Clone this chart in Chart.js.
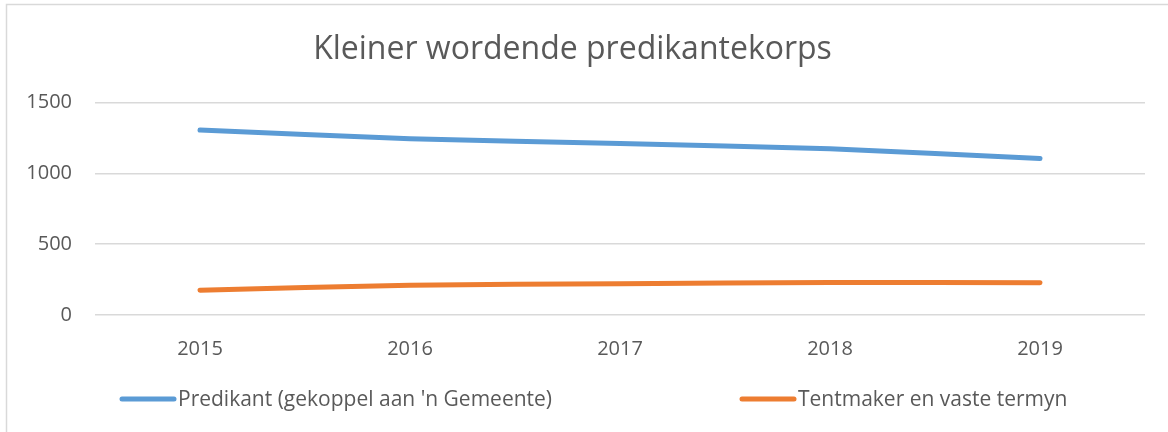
<!DOCTYPE html>
<html>
<head>
<meta charset="utf-8">
<title>Kleiner wordende predikantekorps</title>
<script src="https://cdn.jsdelivr.net/npm/chart.js@4/dist/chart.umd.min.js"></script>
<style>
  html, body { margin: 0; padding: 0; background: #fff; overflow: hidden; }
  #wrap { width: 1168px; height: 432px; }
</style>
</head>
<body>
<div id="wrap"><canvas id="grafiek" width="1168" height="432"></canvas></div>
<script>
// Data (afgelees van die oorspronklike grafiek)
const jare = ['2015', '2016', '2017', '2018', '2019'];
const predikante = [1305, 1244, 1210, 1173, 1104];
const tentmakers = [175, 210, 220, 230, 228];
const yMerke = [0, 500, 1000, 1500];
const reeksName = ["Predikant (gekoppel aan 'n Gemeente)", 'Tentmaker en vaste termyn'];
const titel = 'Kleiner wordende predikantekorps';

const kleure = ['#5B9BD5', '#ED7D31'];
const teksKleur = '#595959';
const rooster = '#d9d9d9';
const lettertipe = '"Open Sans", "Liberation Sans", sans-serif';

// Dun raam soos in Excel (links en bo)
const raam = {
  id: 'raam',
  beforeDraw(chart) {
    const ctx = chart.ctx;
    ctx.save();
    ctx.strokeStyle = rooster;
    ctx.lineWidth = 1.5;
    ctx.beginPath();
    ctx.moveTo(6.5, chart.height);
    ctx.lineTo(6.5, 4.5);
    ctx.lineTo(chart.width, 4.5);
    ctx.stroke();
    ctx.restore();
  }
};

// Legende onderaan, wyd uitmekaar soos die oorspronklike
const legende = {
  id: 'legende',
  afterDraw(chart) {
    const ctx = chart.ctx;
    const beginX = [119, 739];
    const y = 399;
    ctx.save();
    ctx.font = '21px ' + lettertipe;
    ctx.textBaseline = 'middle';
    chart.data.datasets.forEach((d, i) => {
      const x = beginX[i];
      ctx.strokeStyle = d.borderColor;
      ctx.lineWidth = 5;
      ctx.lineCap = 'round';
      ctx.beginPath();
      ctx.moveTo(x + 3, y);
      ctx.lineTo(x + 55, y);
      ctx.stroke();
      ctx.fillStyle = teksKleur;
      ctx.fillText(d.label, x + 59, y + 1);
    });
    ctx.restore();
  }
};

new Chart(document.getElementById('grafiek'), {
  type: 'line',
  data: {
    labels: jare,
    datasets: [
      { label: reeksName[0], data: predikante, borderColor: kleure[0], backgroundColor: kleure[0] },
      { label: reeksName[1], data: tentmakers, borderColor: kleure[1], backgroundColor: kleure[1] },
    ],
  },
  options: {
    responsive: false,
    animation: false,
    devicePixelRatio: 1,
    layout: { padding: { top: 0, right: 23, bottom: 0, left: 0 } },
    elements: {
      line: { borderWidth: 5, tension: 0.25, borderCapStyle: 'round', borderJoinStyle: 'round' },
      point: { radius: 0, hoverRadius: 0 },
    },
    plugins: {
      legend: { display: false },
      tooltip: { enabled: false },
      title: {
        display: true,
        text: titel,
        color: teksKleur,
        font: { family: lettertipe, size: 32, weight: 'normal' },
        padding: { top: 31, bottom: 33 },
      },
    },
    scales: {
      x: {
        offset: true,
        grid: { display: false },
        border: { display: false },
        ticks: { color: teksKleur, font: { family: lettertipe, size: 20 }, padding: 14 },
        afterFit: s => { s.height = 117; },
      },
      y: {
        min: 0,
        max: 1500,
        afterBuildTicks: s => { s.ticks = yMerke.map(v => ({ value: v })); },
        grid: { color: rooster, lineWidth: 1.5, drawTicks: false },
        border: { display: false },
        ticks: {
          color: teksKleur,
          font: { family: lettertipe, size: 20 },
          padding: 23,
          callback: v => String(v),
        },
        afterFit: s => { s.width = 95; },
      },
    },
  },
  plugins: [raam, legende],
});
</script>
</body>
</html>
